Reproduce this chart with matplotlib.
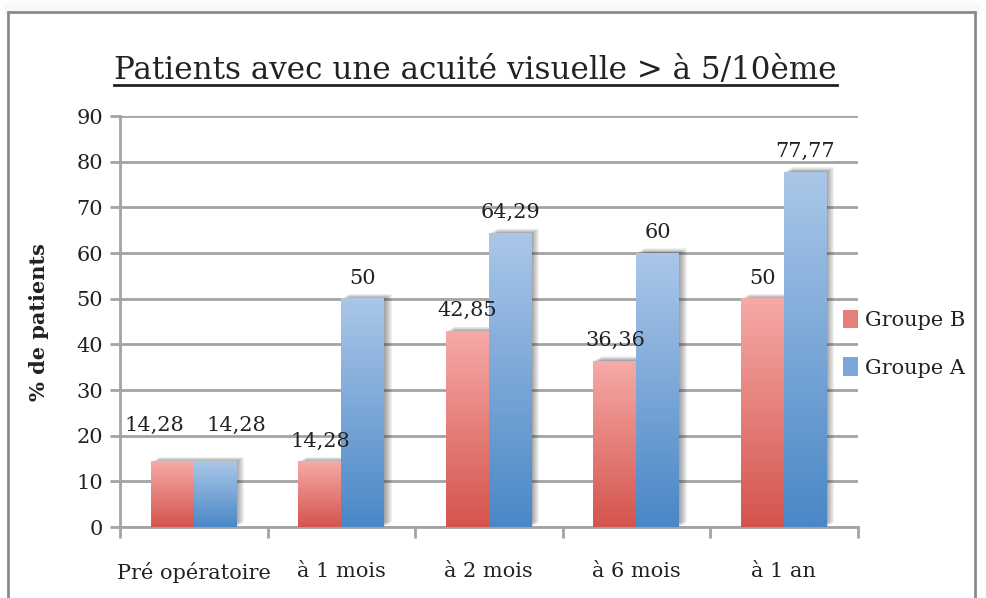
import numpy as np
import matplotlib
matplotlib.use("Agg")
import matplotlib.pyplot as plt
import matplotlib.colors as mcolors
import matplotlib.patheffects as pe
from matplotlib.patches import Rectangle, Patch
from matplotlib.lines import Line2D

# ==========================================
# DATA
# ==========================================
categories = ["Pré opératoire", "à 1 mois", "à 2 mois", "à 6 mois", "à 1 an"]
groupe_b = [14.28, 14.28, 42.85, 36.36, 50]
groupe_a = [14.28, 50, 64.29, 60, 77.77]
labels_b = ["14,28", "14,28", "42,85", "36,36", "50"]
labels_a = ["14,28", "50", "64,29", "60", "77,77"]
y_ticks = [0, 10, 20, 30, 40, 50, 60, 70, 80, 90]

TITLE = "Patients avec une acuité visuelle > à 5/10ème"
FONT = "DejaVu Serif"
GRID = "#a3a3a3"
TXT = "#222222"
FS = 15

red_cmap = mcolors.LinearSegmentedColormap.from_list("red", ["#d4544d", "#f6aaa7"])
blue_cmap = mcolors.LinearSegmentedColormap.from_list("blue", ["#4a87c7", "#aac7e8"])

plt.rcParams["font.family"] = [FONT]

fig = plt.figure(figsize=(9.86, 5.98), dpi=100, facecolor="white")

# frame with a soft shadow on top (drawn behind the axes)
for i in range(10):
    fig.patches.append(Rectangle((0.004, 0.975 + i * 0.0025), 0.99, 0.003,
                                 transform=fig.transFigure, facecolor="#888888",
                                 edgecolor="none", alpha=0.09 * (1 - i / 10), zorder=-2))
fig.patches.append(Rectangle((0.008, -0.05), 0.981, 1.03, transform=fig.transFigure,
                             facecolor="white", edgecolor="#8a8a8a", linewidth=2, zorder=-1))

ax = fig.add_axes([0.1217, 0.1187, 0.748, 0.687])
ax.set_facecolor("none")

x = np.arange(len(categories))
w = 0.29

# soft drop shadow: stacked faint copies drifting right/up
shadow = [pe.SimplePatchShadow(offset=(o, o * 0.6), shadow_rgbFace="#3a3a3a", alpha=0.07)
          for o in (0.7, 1.4, 2.1, 2.8, 3.5, 4.2, 4.9, 5.6)] + [pe.Normal()]

gradient = np.linspace(0, 1, 256).reshape(-1, 1)
for vals, offs, cmap in ((groupe_b, -w / 2, red_cmap), (groupe_a, w / 2, blue_cmap)):
    bars = ax.bar(x + offs, vals, w, facecolor="white", edgecolor="none", zorder=2,
                  path_effects=shadow)
    for b in bars:
        x0, h = b.get_x(), b.get_height()
        ax.imshow(gradient, extent=[x0, x0 + b.get_width(), 0, h], origin="lower",
                  aspect="auto", cmap=cmap, zorder=3)

# value labels; the first pair is spread apart and lifted as in the original
nudge_b = [(-13, 22), (0, 11), (0, 11), (0, 11), (0, 11)]
nudge_a = [(15, 22), (0, 11), (0, 11), (0, 11), (0, 11)]
for xi, v, lab, nd in zip(x - w / 2, groupe_b, labels_b, nudge_b):
    ax.annotate(lab, (xi, v), xytext=nd, textcoords="offset points",
                ha="center", va="baseline", fontsize=FS, color=TXT)
for xi, v, lab, nd in zip(x + w / 2, groupe_a, labels_a, nudge_a):
    ax.annotate(lab, (xi, v), xytext=nd, textcoords="offset points",
                ha="center", va="baseline", fontsize=FS, color=TXT)

ax.set_xlim(-0.5, len(categories) - 0.5)
ax.set_ylim(0, 90)
ax.set_yticks(y_ticks)
ax.tick_params(axis="y", labelsize=FS, length=7, width=2, color=GRID, labelcolor=TXT, pad=5)
ax.set_xticks(np.arange(len(categories) + 1) - 0.5)
ax.set_xticklabels([])
ax.set_xticks(x, minor=True)
ax.set_xticklabels(categories, minor=True)
ax.tick_params(axis="x", which="major", length=8, width=2, color=GRID)
ax.tick_params(axis="x", which="minor", length=0, labelsize=FS, labelcolor=TXT, pad=25)

ax.yaxis.grid(True, color=GRID, linewidth=2, zorder=0)
ax.set_axisbelow(True)
for side in ("top", "right"):
    ax.spines[side].set_visible(False)
for side in ("left", "bottom"):
    ax.spines[side].set_color(GRID)
    ax.spines[side].set_linewidth(2)

ax.set_ylabel("% de patients", fontsize=FS, fontweight="bold", labelpad=20, color=TXT)

handles = [Patch(facecolor=red_cmap(0.5), label="Groupe B"),
           Patch(facecolor=blue_cmap(0.5), label="Groupe A")]
fig.legend(handles=handles, loc="center left", bbox_to_anchor=(0.855, 0.425), frameon=False,
           fontsize=FS, handlelength=0.7, handleheight=1.0, handletextpad=0.35,
           labelspacing=1.3, borderpad=0, borderaxespad=0, labelcolor=TXT)

title = fig.text(0.482, 0.868, TITLE, ha="center", va="baseline", fontsize=22.3, color=TXT)
fig.canvas.draw()
bb = title.get_window_extent()
fig.lines.append(Line2D([bb.x0, bb.x1], [bb.y0 + 1, bb.y0 + 1], transform=None,
                        color=TXT, linewidth=2))

fig.savefig("out.png", dpi=100)
